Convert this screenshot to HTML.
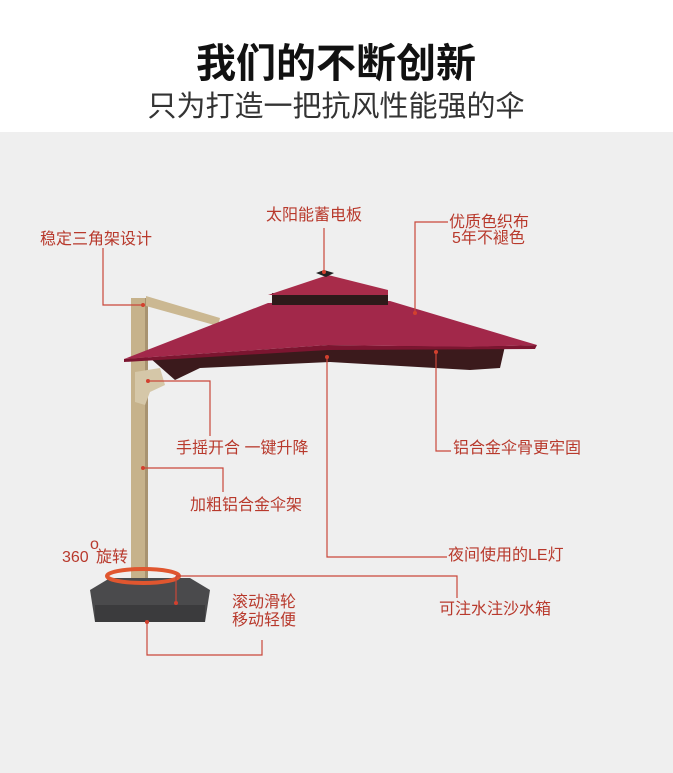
<!DOCTYPE html>
<html><head><meta charset="utf-8"><style>
html,body{margin:0;padding:0;width:673px;height:773px;overflow:hidden;background:#fff}
svg{display:block}
text{font-family:"Liberation Sans","Noto Sans CJK SC",sans-serif}
.l{fill:#b8392c;font-size:16px}
</style></head><body>
<svg width="673" height="773" viewBox="0 0 673 773">
<rect x="0" y="0" width="673" height="132" fill="#fff"/>
<rect x="0" y="132" width="673" height="641" fill="#efefef"/>
<text x="336" y="77" text-anchor="middle" font-size="40" font-weight="bold" fill="#111">我们的不断创新</text>
<text x="336" y="116" text-anchor="middle" font-size="29" fill="#333">只为打造一把抗风性能强的伞</text>
<rect x="131" y="298" width="16" height="292" fill="#c6b28b"/>
<rect x="145" y="298" width="3" height="292" fill="#a89370"/>
<polygon points="146,296 220,318 218,326 146,306" fill="#cbb892"/>
<path d="M135,372 L160,368 L165,385 L150,392 L145,405 L135,402 Z" fill="#d5c7a8"/>
<polygon points="150,358 328,346 505,346 500,368 470,370 330,362 200,368 175,380" fill="#3b1a1c"/>
<polygon points="124,359 268,303 390,301 537,345 470,347 328,345" fill="#a2284a"/>
<polygon points="124,359 328,345 470,347 537,345 535,349 328,350 124,362" fill="#7c1530"/>
<rect x="272" y="293" width="116" height="12" fill="#2e1a1a"/>
<polygon points="268,295 328,275 388,290 388,295" fill="#a82c4a"/>
<polygon points="316,273 324,270 334,273 326,277" fill="#222"/>
<polygon points="90,590 110,578 190,578 210,590 205,622 95,622" fill="#4a4a4c"/>
<rect x="95" y="605" width="110" height="17" fill="#3b3b3d"/>
<ellipse cx="143" cy="576" rx="36" ry="7" fill="none" stroke="#e0562f" stroke-width="4"/>
<g stroke="#c9473a" stroke-width="1.2" fill="none">
<polyline points="103,248 103,305 143,305"/>
<polyline points="324,228 324,272"/>
<polyline points="448,222 415,222 415,313"/>
<polyline points="150,381 210,381 210,436"/>
<polyline points="436,352 436,451 451,451"/>
<polyline points="143,468 223,468 223,492"/>
<polyline points="327,357 327,557 447,557"/>
<polyline points="176,576 457,576 457,598"/>
<polyline points="176,576 176,603"/>
<polyline points="147,622 147,655 262,655 262,640"/>
</g>
<g fill="#d2402e">
<circle cx="143" cy="305" r="2"/><circle cx="324" cy="272" r="2"/><circle cx="415" cy="313" r="2"/><circle cx="148" cy="381" r="2"/><circle cx="436" cy="352" r="2"/><circle cx="143" cy="468" r="2"/><circle cx="327" cy="357" r="2"/><circle cx="176" cy="603" r="2"/><circle cx="147" cy="622" r="2"/>
</g>
<text class="l" x="40" y="244">稳定三角架设计</text>
<text class="l" x="266" y="220">太阳能蓄电板</text>
<text class="l" x="449" y="227">优质色织布</text>
<text class="l" x="452" y="243">5年不褪色</text>
<text class="l" x="176" y="453">手摇开合 一键升降</text>
<text class="l" x="453" y="453">铝合金伞骨更牢固</text>
<text class="l" x="190" y="510">加粗铝合金伞架</text>
<text class="l" x="448" y="560">夜间使用的LE灯</text>
<text class="l" x="62" y="562">360</text>
<text class="l" x="90" y="549" font-size="9">o</text>
<text class="l" x="96" y="562">旋转</text>
<text class="l" x="439" y="614">可注水注沙水箱</text>
<text class="l" x="232" y="607">滚动滑轮</text>
<text class="l" x="232" y="625">移动轻便</text>
</svg>
</body></html>
